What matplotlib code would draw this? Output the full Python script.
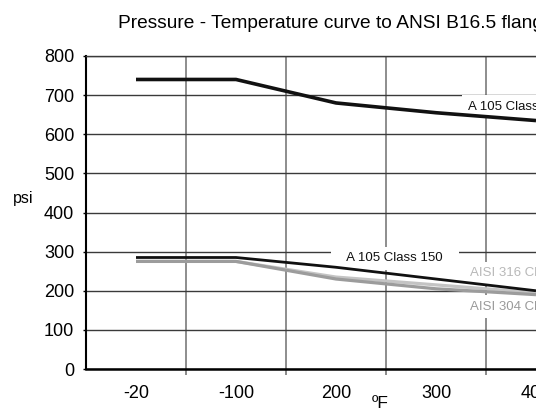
import matplotlib
matplotlib.use("Agg")
import matplotlib.pyplot as plt
from matplotlib.patches import Rectangle

plt.rcParams['font.family'] = ['Liberation Sans', 'DejaVu Sans']

# data
temps = ['-20', '-100', '200', '300', '400']
a105_300 = [740, 740, 680, 655, 635]
a105_150 = [285, 285, 260, 230, 200]
aisi316_150 = [275, 275, 235, 215, 195]
aisi304_150 = [275, 275, 230, 205, 190]
yticks = [0, 100, 200, 300, 400, 500, 600, 700, 800]

W, H = 549, 409
fig = plt.figure(figsize=(W / 100, H / 100), dpi=100)
# plot area: left 86px, top 56px, bottom 369px, 100px per category
ax = fig.add_axes([86 / W, (H - 369) / H, 500 / W, 313 / H])

x = list(range(len(temps)))
ax.plot(x, aisi316_150, color='#c4c4c4', lw=2.3, zorder=4, solid_capstyle='butt')
ax.plot(x, aisi304_150, color='#9c9c9c', lw=2.3, zorder=4, solid_capstyle='butt')
ax.plot(x, a105_150, color='#111111', lw=2.0, zorder=5, solid_capstyle='butt')
ax.plot(x, a105_300, color='#111111', lw=2.6, zorder=5, solid_capstyle='butt')

ax.set_xlim(-0.5, len(temps) - 0.5)
ax.set_ylim(0, 800)
ax.set_xticks(x)
ax.set_xticklabels(temps, fontsize=13)
ax.set_xticks([i + 0.5 for i in x[:-1]] + [len(temps) - 0.5], minor=True)
ax.set_yticks(yticks)
ax.set_yticklabels([str(v) for v in yticks], fontsize=13)
ax.tick_params(axis='x', which='major', length=0, pad=11.5)
ax.tick_params(axis='x', which='minor', length=4, width=1.2, color='#777777')
ax.tick_params(axis='y', length=2, width=1, pad=6.5)

ax.set_axisbelow(True)
ax.grid(axis='y', which='major', color='#3a3a3a', lw=1.0)
ax.grid(axis='x', which='minor', color='#7a7a7a', lw=1.2)

ax.spines['left'].set_linewidth(1.5)
ax.spines['bottom'].set_linewidth(1.8)
ax.spines['top'].set_color('#3a3a3a')
ax.spines['top'].set_linewidth(1.0)
ax.spines['right'].set_visible(False)

box = dict(facecolor='white', edgecolor='none', pad=4)
ax.text(3.32, 670, 'A 105 Class 300', fontsize=9.5, color='#111111',
        va='center', ha='left', bbox=box, zorder=3)
ax.text(2.59, 283, '   A 105 Class 150   ', fontsize=9.5, color='#111111',
        va='center', ha='center', bbox=box, zorder=3)
ax.text(3.34, 245, 'AISI 316 Class 150', fontsize=9.5, color='#b8b8b8',
        va='center', ha='left', bbox=box, zorder=3)
ax.text(3.34, 159, 'AISI 304 Class 150', fontsize=9.5, color='#9a9a9a',
        va='center', ha='left', bbox=box, zorder=3)

fig.text(118 / W, 1 - 23 / H, 'Pressure - Temperature curve to ANSI B16.5 flanges',
         fontsize=13.8, ha='left', va='center')
fig.text(13 / W, 1 - 199 / H, 'psi', fontsize=11.5, ha='left', va='center')
fig.text(380 / W, 1 - 396 / H, 'ºF', fontsize=12.5, ha='center', va='top')

# the original picture is cut off on the right
fig.add_artist(Rectangle((536 / W, 0), 1, 1, transform=fig.transFigure,
                         facecolor='white', edgecolor='none', zorder=20))

fig.savefig('out.png', dpi=100)
